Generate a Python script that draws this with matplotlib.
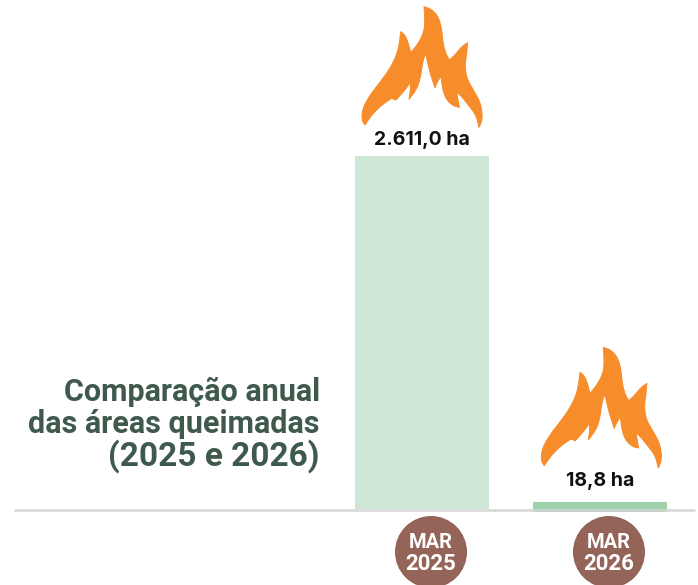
import matplotlib
matplotlib.use("Agg")
import matplotlib.pyplot as plt
from matplotlib.patches import Polygon, Circle

# drawn heights: the small bar is wider than scale in the original
months = ["MAR\n2025", "MAR\n2026"]
bar_heights = [2611.0, 52.0]
bar_labels = ["2.611,0 ha", "18,8 ha"]
bar_colors = ["#cde6d5", "#9dd2ab"]
title_lines = ["Comparação anual", "das áreas queimadas", "(2025 e 2026)"]
title_sizes = [22, 22, 24]

W, H = 698, 585
BASE = 509
UNIT = 353 / 2611.0  # pixels per hectare
CX0, STEP = 422, 178

# flame outline in a 3x crop, one list per stretch between sharp corners
flame_parts = [
    [(252, 20), (275, 28), (295, 50), (305, 85), (308, 120), (315, 155), (328, 180)],
    [(328, 180), (345, 165), (365, 140), (383, 128)],
    [(383, 128), (380, 160), (375, 195), (380, 235), (400, 270), (420, 305), (427, 340), (425, 365), (417, 382)],
    [(417, 382), (408, 345), (385, 315), (365, 290), (350, 276)],
    [(350, 276), (358, 322)],
    [(358, 322), (340, 318), (320, 300), (308, 270), (303, 228)],
    [(303, 228), (290, 250), (285, 263)],
    [(285, 263), (272, 225), (262, 185), (257, 160)],
    [(257, 160), (248, 185), (243, 225), (232, 265), (207, 298)],
    [(207, 298), (212, 265), (210, 248)],
    [(210, 248), (195, 270), (168, 300)],
    [(168, 300), (155, 295)],
    [(155, 295), (125, 315), (95, 345), (75, 375)],
    [(75, 375), (65, 360), (68, 325), (90, 285), (125, 240), (150, 205), (170, 165), (178, 130), (182, 95)],
    [(182, 95), (195, 105), (205, 130), (212, 158)],
    [(212, 158), (235, 130), (250, 100), (255, 70), (252, 20)],
]


def chaikin(points, rounds=2):
    for _ in range(rounds):
        out = [points[0]]
        for (x0, y0), (x1, y1) in zip(points, points[1:]):
            out.append((0.75 * x0 + 0.25 * x1, 0.75 * y0 + 0.25 * y1))
            out.append((0.25 * x0 + 0.75 * x1, 0.25 * y0 + 0.75 * y1))
        out.append(points[-1])
        points = out
    return points


flame = []
for part in flame_parts:
    flame += chaikin(part)

fig = plt.figure(figsize=(W / 100, H / 100), dpi=100)

ax = fig.add_axes([0, 0, 1, 1])
ax.set_xlim(-CX0 / STEP, (W - CX0) / STEP)
ax.set_ylim(-(H - BASE) / UNIT, BASE / UNIT)
ax.axis("off")
ax.bar(range(len(bar_heights)), bar_heights, width=134 / STEP, color=bar_colors, zorder=2)
ax.bar([1], [-2.5 / UNIT], width=134 / STEP, color=bar_colors[1], zorder=2)

# overlay in pixels for the decorations
ov = fig.add_axes([0, 0, 1, 1])
ov.set_xlim(0, W)
ov.set_ylim(H, 0)
ov.axis("off")
ov.patch.set_alpha(0)

ov.plot([14, 695], [509.7, 509.7], color="#d4d4d4", lw=2.0, alpha=0.85, solid_capstyle="butt", zorder=3)

flame_offsets = [(340, 0), (519.3, 340.7)]
label_y = [140, 481]
for i, (dx, dy) in enumerate(flame_offsets):
    pts = [(dx + x / 3, dy + y / 3) for x, y in flame]
    ov.add_patch(Polygon(pts, closed=True, fc="#f78c2b", ec="#f78c2b", lw=0.7, zorder=4))
    ov.text(CX0 + STEP * i, label_y[i], bar_labels[i], ha="center", va="center",
            fontsize=14, fontweight="bold", family="Inter", color="#111111")
    cx = CX0 + 9 + STEP * i
    ov.add_patch(Circle((cx, 552), 36, fc="#946459", ec="none", zorder=4))
    a, b = months[i].split("\n")
    ov.text(cx, 542.5, a, ha="center", va="center", fontsize=14.5, fontweight="bold",
            family="Roboto", color="white", zorder=5)
    ov.text(cx, 564, b, ha="center", va="center", fontsize=16, fontweight="bold",
            family="Roboto", color="white", zorder=5)

for line, y, size in zip(title_lines, [392, 424, 456], title_sizes):
    ov.text(320, y, line, ha="right", va="center", fontsize=size, fontweight="bold",
            family="Roboto", color="#3f5a4d")

fig.savefig("out.png", dpi=100)
